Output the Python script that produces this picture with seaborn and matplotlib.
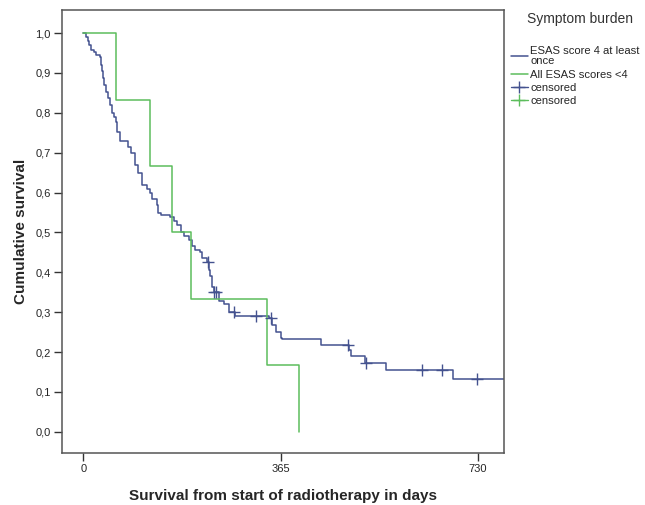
import matplotlib
matplotlib.use("Agg")
import matplotlib.pyplot as plt
import seaborn as sns
import numpy as np
import pandas as pd
from matplotlib.lines import Line2D

# Kaplan-Meier steps (day of drop, survival after drop)
high_days = [0, 5, 8, 11, 14, 20, 24, 30, 33, 35, 37, 39, 42, 46, 49, 53, 56, 60, 63,
             68, 83, 89, 96, 102, 108, 117, 124, 128, 136, 139, 143, 161, 167, 173,
             180, 186, 195, 201, 207, 216, 219, 228, 232, 235, 238, 241, 251, 260,
             270, 281, 343, 349, 356, 365, 368, 440, 492, 496, 522, 561, 685, 779]
high_surv = [1.0, 0.99, 0.98, 0.97, 0.957, 0.953, 0.945, 0.94, 0.92, 0.905, 0.887,
             0.87, 0.853, 0.837, 0.82, 0.80, 0.79, 0.777, 0.753, 0.73, 0.715, 0.70,
             0.67, 0.65, 0.62, 0.61, 0.60, 0.585, 0.57, 0.55, 0.545, 0.54, 0.53,
             0.52, 0.50, 0.49, 0.48, 0.465, 0.456, 0.452, 0.436, 0.427, 0.406, 0.39,
             0.364, 0.35, 0.327, 0.32, 0.30, 0.29, 0.285, 0.268, 0.25, 0.235, 0.232,
             0.218, 0.205, 0.189, 0.172, 0.155, 0.133, 0.133]
high_censored = [230, 241, 246, 279, 319, 347, 489, 523, 626, 664, 728]

low_days = [0, 61, 124, 164, 200, 340, 400]
low_surv = [1.0, 0.833, 0.667, 0.5, 0.333, 0.167, 0.0]

groups = ["ESAS score 4 at least\nonce", "All ESAS scores <4"]
colors = ["#44528f", "#5cbd5c"]

curves = pd.concat([
    pd.DataFrame({"day": high_days, "surv": high_surv, "group": groups[0]}),
    pd.DataFrame({"day": low_days, "surv": low_surv, "group": groups[1]}),
])

# survival value at each censoring time, taken from the step curve
idx = np.searchsorted(high_days, high_censored, side="right") - 1
cens = pd.DataFrame({"day": high_censored,
                     "surv": np.array(high_surv)[idx],
                     "group": groups[0]})

sns.set_style("white")
plt.rcParams["font.family"] = ["Liberation Sans", "DejaVu Sans"]

fig = plt.figure(figsize=(6.45, 5.05), dpi=100)
ax = fig.add_axes([0.0957, 0.103, 0.686, 0.878])

sns.lineplot(data=curves, x="day", y="surv", hue="group", palette=colors,
             hue_order=groups, estimator=None, drawstyle="steps-post",
             linewidth=1.1, legend=False, ax=ax)
sns.scatterplot(data=cens, x="day", y="surv", color=colors[0], marker="+",
                s=70, linewidth=1.0, legend=False, ax=ax, zorder=3)

ax.set_xlim(-40, 779)
ax.set_ylim(-0.053, 1.059)
ax.set_xticks([0, 365, 730])
ax.set_yticks(np.arange(0, 1.01, 0.1))
ax.set_yticklabels([f"{v:.1f}".replace(".", ",") for v in np.arange(0, 1.01, 0.1)])
ax.tick_params(axis="both", direction="out", length=6, width=1, color="#333333",
               labelsize=8, pad=2, bottom=True, left=True)
for s in ax.spines.values():
    s.set_color("#555555")
    s.set_linewidth(1.1)

ax.set_xlabel("Survival from start of radiotherapy in days", fontsize=11,
              fontweight="bold", labelpad=11)
ax.set_ylabel("Cumulative survival", fontsize=11, fontweight="bold", labelpad=5)

fig.text(527 / 645, 1 - 19 / 505, "Symptom burden", fontsize=10,
         color="#333333", ha="left", va="center")

handles = [
    Line2D([], [], color=colors[0], lw=1.1),
    Line2D([], [], color=colors[1], lw=1.1),
    Line2D([], [], color=colors[0], lw=1.0, marker="+", markersize=9),
    Line2D([], [], color=colors[1], lw=1.0, marker="+", markersize=9),
]
labels = [groups[0], groups[1], "censored", "censored"]
leg = fig.legend(handles, labels, loc="upper left",
                 bbox_to_anchor=(505 / 645, 1 - 40 / 505), frameon=False,
                 fontsize=8.1, borderpad=0, handlelength=1.55, handletextpad=0.2,
                 labelspacing=0.28)
for t in leg.get_texts():
    t.set_linespacing(1.1)

plt.savefig("out.png", dpi=100)
plt.close()
